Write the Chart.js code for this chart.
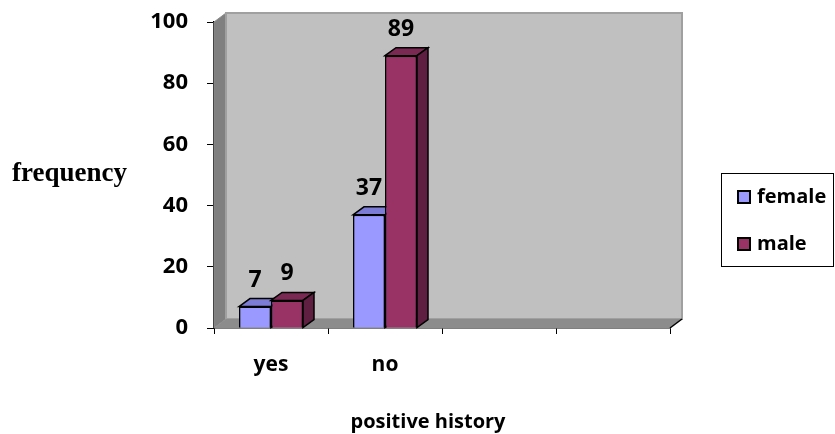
<!DOCTYPE html>
<html><head><meta charset="utf-8">
<script src="https://cdn.jsdelivr.net/npm/chart.js@4/dist/chart.umd.min.js"></script>
<style>html,body{margin:0;padding:0;background:#fff}#wrap{width:835px;height:434px}</style>
</head><body><div id="wrap"><canvas id="c" width="835" height="434"></canvas></div>
<script>
const categories = ['yes', 'no', '', ''];
const femaleValues = [7, 37, null, null];
const maleValues = [9, 89, null, null];
const seriesNames = ['female', 'male'];
const yTickValues = [0, 20, 40, 60, 80, 100];
const xTitle = 'positive history';
const yTitle = 'frequency';

const FRONT = ['#9999ff', '#993366'];
const TOP = ['#7c7cd6', '#7a2952'];
const SIDE = ['#6666b0', '#5e1f40'];
const SANS = '"Open Sans", Lato, sans-serif';

const WALL = {dx: 12, dy: 9};
const BAR = {dx: 11, dy: 8};

function poly(ctx, pts, fill, stroke, lw) {
  ctx.beginPath();
  ctx.moveTo(pts[0][0], pts[0][1]);
  for (let i = 1; i < pts.length; i++) ctx.lineTo(pts[i][0], pts[i][1]);
  ctx.closePath();
  if (fill) { ctx.fillStyle = fill; ctx.fill(); }
  if (stroke) { ctx.strokeStyle = stroke; ctx.lineWidth = lw || 1; ctx.stroke(); }
}

const threeD = {
  id: 'threeD',
  beforeDatasetsDraw(chart) {
    const ctx = chart.ctx, a = chart.chartArea;
    const L = a.left, R = a.right, T = a.top, B = a.bottom, dx = WALL.dx, dy = WALL.dy;
    ctx.save();
    poly(ctx, [[L, T], [L + dx, T - dy], [L + dx, B - dy], [L, B]], '#808080', '#8a8a8a', 1);
    poly(ctx, [[L + dx, T - dy], [R + dx, T - dy], [R + dx, B - dy], [L + dx, B - dy]], '#c0c0c0', '#a0a0a0', 2);
    poly(ctx, [[L, B], [L + dx, B - dy], [R + dx, B - dy], [R, B]], '#8c8c8c', null);
    ctx.beginPath();
    ctx.moveTo(R, B); ctx.lineTo(R + dx, B - dy);
    ctx.strokeStyle = '#000'; ctx.lineWidth = 1.5; ctx.stroke();
    ctx.restore();
  },
  afterDatasetsDraw(chart) {
    const ctx = chart.ctx;
    ctx.save();
    chart.data.datasets.forEach((ds, di) => {
      const meta = chart.getDatasetMeta(di);
      meta.data.forEach((el, i) => {
        if (ds.data[i] == null) return;
        el.draw(ctx, chart.chartArea);
        const p = el.getProps(['x', 'y', 'base', 'width'], true);
        const l = p.x - p.width / 2, r = p.x + p.width / 2, y = p.y, b = p.base;
        ctx.lineJoin = 'miter';
        poly(ctx, [[l, y], [l + BAR.dx, y - BAR.dy], [r + BAR.dx, y - BAR.dy], [r, y]], TOP[di], '#000', 1.5);
        poly(ctx, [[r, y], [r + BAR.dx, y - BAR.dy], [r + BAR.dx, b - BAR.dy], [r, b]], SIDE[di], '#000', 1.5);
      });
    });
    ctx.restore();
  },
  afterDraw(chart) {
    const ctx = chart.ctx;
    ctx.save();
    ctx.fillStyle = '#000';
    ctx.font = 'bold 23px ' + SANS;
    ctx.textAlign = 'center';
    ctx.textBaseline = 'alphabetic';
    chart.data.datasets.forEach((ds, di) => {
      chart.getDatasetMeta(di).data.forEach((el, i) => {
        if (ds.data[i] == null) return;
        ctx.fillText(String(ds.data[i]), el.x, el.y - 20);
      });
    });
    ctx.font = 'bold 27px "Liberation Serif", "Times New Roman", serif';
    ctx.textAlign = 'left';
    ctx.fillText(yTitle, 12, 181);
    ctx.font = 'bold 20px ' + SANS;
    ctx.textAlign = 'center';
    ctx.fillText(xTitle, 428, 428);
    ctx.strokeStyle = '#000';
    ctx.lineWidth = 1;
    ctx.strokeRect(721.5, 173.5, 112, 93);
    ctx.textAlign = 'left';
    ctx.textBaseline = 'middle';
    const rows = [197, 244];
    ctx.font = 'bold 20px ' + SANS;
    chart.data.datasets.forEach((ds, di) => {
      const cy = rows[di];
      ctx.fillStyle = FRONT[di];
      ctx.fillRect(738, cy - 6, 12, 12);
      ctx.lineWidth = 2;
      ctx.strokeRect(738, cy - 6, 12, 12);
      ctx.fillStyle = '#000';
      ctx.fillText(ds.label, 757, cy);
    });
    ctx.restore();
  }
};

new Chart(document.getElementById('c'), {
  type: 'bar',
  data: {
    labels: categories,
    datasets: [
      {label: seriesNames[0], data: femaleValues, backgroundColor: FRONT[0], borderColor: '#000', borderWidth: 1.5},
      {label: seriesNames[1], data: maleValues, backgroundColor: FRONT[1], borderColor: '#000', borderWidth: 1.5}
    ]
  },
  options: {
    responsive: false,
    animation: false,
    devicePixelRatio: 1,
    layout: {padding: {left: 0, right: 165, top: 22, bottom: 0}},
    datasets: {bar: {categoryPercentage: 0.5614, barPercentage: 1}},
    plugins: {legend: {display: false}, tooltip: {enabled: false}},
    scales: {
      x: {
        offset: true,
        grid: {display: true, drawOnChartArea: false, offset: true, color: '#000', tickLength: 6, tickWidth: 1},
        border: {display: true, color: '#000', width: 1.5},
        ticks: {color: '#000', font: {family: SANS, size: 21, weight: 'bold'}, padding: 18, maxRotation: 0},
        afterFit(s) { s.height = 106; s.paddingLeft = 0; s.paddingRight = 0; }
      },
      y: {
        min: 0, max: 100,
        afterBuildTicks(s) { s.ticks = yTickValues.map(v => ({value: v})); },
        grid: {display: true, drawOnChartArea: false, color: '#000', tickLength: 7, tickWidth: 1},
        border: {display: true, color: '#000', width: 1.5},
        ticks: {color: '#000', font: {family: SANS, size: 22, weight: 'bold'}, padding: 19},
        afterFit(s) { s.width = 214; s.paddingTop = 0; s.paddingBottom = 0; }
      }
    }
  },
  plugins: [threeD]
});
</script>
</body></html>
